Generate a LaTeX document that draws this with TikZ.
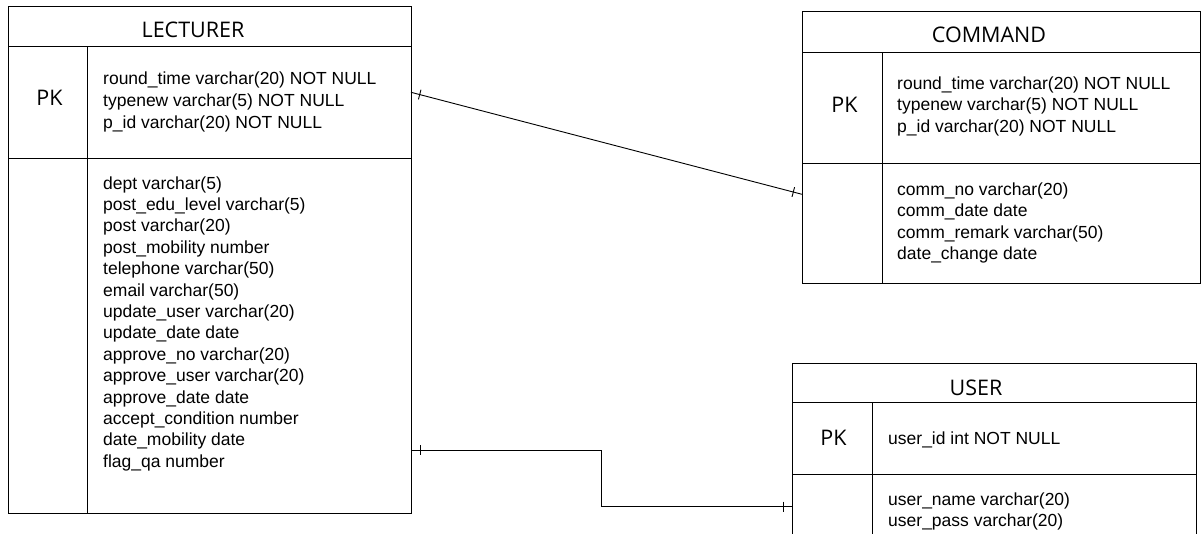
\documentclass[tikz,border=0pt]{standalone}
\usepackage{fontspec}
\setmainfont{Liberation Sans}
\newfontfamily\titlefont{Open Sans}
\usetikzlibrary{calc}
\begin{document}
\begin{tikzpicture}[x=1pt,y=-1pt,
  tbl/.style={draw=black, line width=1pt, inner sep=0pt, outer sep=0pt, anchor=north west},
  sepline/.style={draw=black, line width=1pt},
  ttl/.style={font=\titlefont\fontsize{21.5}{24}\selectfont, anchor=base, inner sep=0pt},
  attr/.style={font=\fontsize{17.5}{21}\selectfont, anchor=base west, inner sep=0pt},
  conn/.style={draw=black, line width=0.9pt},
  tickmark/.style={draw=black, line width=0.9pt}]

\useasboundingbox (0,0) rectangle (1201,533);
\clip (0,0) rectangle (1201,533);
\fill[white] (0,0) rectangle (1201,533);

% ---------------- LECTURER ----------------
\node[tbl, minimum width=403pt, minimum height=507pt] (lect) at (8,6) {};
\draw[sepline] (8,46) -- (411,46);
\draw[sepline] (8,158) -- (411,158);
\draw[sepline] (87,46) -- (87,513);
\node[ttl] (lectT) at (193,37.7) {LECTURER};
\node[ttl] (lectPK) at (49.5,105.7) {PK};
\foreach \t [count=\i] in {round\_time varchar(20) NOT NULL,typenew varchar(5) NOT NULL,p\_id varchar(20) NOT NULL}
  \node[attr] (lectK\i) at (103,{84+22*(\i-1)}) {\t};
\foreach \t [count=\i] in {dept varchar(5),post\_edu\_level varchar(5),post varchar(20),post\_mobility number,telephone varchar(50),email varchar(50),update\_user varchar(20),update\_date date,approve\_no varchar(20),approve\_user varchar(20),approve\_date date,accept\_condition number,date\_mobility date,flag\_qa number}
  \node[attr] (lectA\i) at (103,{189+21.4*(\i-1)}) {\t};

% ---------------- COMMAND ----------------
\node[tbl, minimum width=398pt, minimum height=272pt] (cmd) at (802,11) {};
\draw[sepline] (802,52) -- (1200,52);
\draw[sepline] (802,163) -- (1200,163);
\draw[sepline] (882,52) -- (882,283);
\node[ttl] (cmdT) at (989,42) {COMMAND};
\node[ttl] (cmdPK) at (844.5,112) {PK};
\foreach \t [count=\i] in {round\_time varchar(20) NOT NULL,typenew varchar(5) NOT NULL,p\_id varchar(20) NOT NULL}
  \node[attr] (cmdK\i) at (897,{89+21.6*(\i-1)}) {\t};
\foreach \t [count=\i] in {comm\_no varchar(20),comm\_date date,comm\_remark varchar(50),date\_change date}
  \node[attr] (cmdA\i) at (897,{195+21.5*(\i-1)}) {\t};

% ---------------- USER ----------------
\node[tbl, minimum width=404pt, minimum height=200pt] (usr) at (792,363) {};
\draw[sepline] (792,402) -- (1196,402);
\draw[sepline] (792,474) -- (1196,474);
\draw[sepline] (872,402) -- (872,563);
\node[ttl] (usrT) at (976,395) {USER};
\node[ttl] (usrPK) at (833.5,445) {PK};
\node[attr] (usrK1) at (888,444) {user\_id int NOT NULL};
\node[attr] (usrA1) at (888,505) {user\_name varchar(20)};
\node[attr] (usrA2) at (888,526) {user\_pass varchar(20)};

% ---------------- connectors ----------------
\coordinate (c1a) at ($(lect.north east)+(0,86.3)$);
\coordinate (c1b) at ($(cmd.north west)+(0,183.3)$);
\draw[conn] (c1a) -- (c1b);
\coordinate (t1a) at ($(c1a)!9pt!(c1b)$);
\coordinate (t1b) at ($(c1b)!9pt!(c1a)$);
\draw[tickmark] ($(t1a)!5pt!90:(c1b)$) -- ($(t1a)!5pt!-90:(c1b)$);
\draw[tickmark] ($(t1b)!5pt!90:(c1a)$) -- ($(t1b)!5pt!-90:(c1a)$);

\coordinate (c2a) at ($(lect.north east)+(0,444)$);
\coordinate (c2b) at ($(usr.north west)+(0,143.7)$);
\draw[conn] (c2a) -- ($(c2a)+(190.7,0)$) |- (c2b);
\draw[tickmark] ($(c2a)+(9.5,-5)$) -- ($(c2a)+(9.5,5)$);
\draw[tickmark] ($(c2b)+(-9,-5)$) -- ($(c2b)+(-9,5)$);
\end{tikzpicture}
\end{document}
